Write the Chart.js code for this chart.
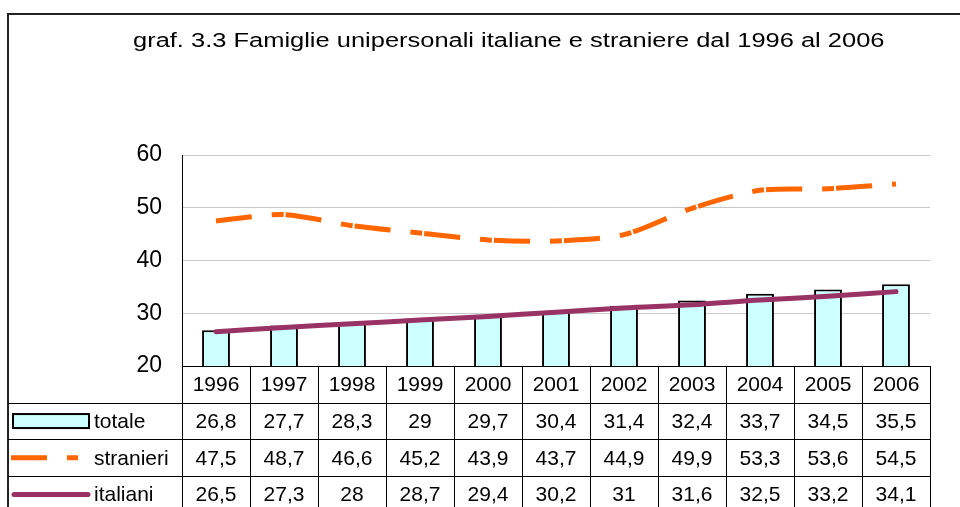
<!DOCTYPE html>
<html>
<head>
<meta charset="utf-8">
<script src="https://cdn.jsdelivr.net/npm/chart.js@4"></script>
<style>
  html, body { margin: 0; padding: 0; background: #fff; }
  #wrap { position: relative; width: 960px; height: 507px; overflow: hidden; }
  #title { position: absolute; left: 133px; top: 29px; font: 20px "Liberation Sans", Arial, sans-serif; color: #000; white-space: nowrap; transform-origin: 0 0; }
</style>
</head>
<body>
<div id="wrap">
  <canvas id="chart" width="960" height="507"></canvas>
  <div id="title">graf. 3.3 Famiglie unipersonali italiane e straniere dal 1996 al 2006</div>
</div>
<script>
var years = ['1996', '1997', '1998', '1999', '2000', '2001', '2002', '2003', '2004', '2005', '2006'];
var totale = [26.8, 27.7, 28.3, 29, 29.7, 30.4, 31.4, 32.4, 33.7, 34.5, 35.5];
var stranieri = [47.5, 48.7, 46.6, 45.2, 43.9, 43.7, 44.9, 49.9, 53.3, 53.6, 54.5];
var italiani = [26.5, 27.3, 28, 28.7, 29.4, 30.2, 31, 31.6, 32.5, 33.2, 34.1];
var yTicks = [20, 30, 40, 50, 60];

// squeeze the title to the narrow width used in the original
var title = document.getElementById('title');
title.style.transform = 'scaleX(' + (751 / title.offsetWidth) + ')';

var font = '"Liberation Sans", Arial, sans-serif';

function fmt(v) {
  return String(v).replace('.', ',');
}

// data table under the plot, aligned to the x scale
var dataTable = {
  id: 'dataTable',
  afterDraw: function (chart) {
    var ctx = chart.ctx;
    var area = chart.chartArea;
    var x = chart.scales.x;
    var w = (area.right - area.left) / years.length;
    var top = area.bottom;
    var rowH = 36.7;
    var rows = [
      { name: 'totale', data: totale },
      { name: 'stranieri', data: stranieri },
      { name: 'italiani', data: italiani }
    ];
    ctx.save();

    // frame
    ctx.strokeStyle = '#222';
    ctx.lineWidth = 2;
    ctx.beginPath();
    ctx.moveTo(8, 507);
    ctx.lineTo(8, 14);
    ctx.lineTo(960, 14);
    ctx.stroke();

    // grid of the table
    ctx.strokeStyle = '#000';
    ctx.lineWidth = 1;
    ctx.beginPath();
    ctx.moveTo(area.left, top + 0.5);
    ctx.lineTo(area.right, top + 0.5);
    for (var r = 1; r <= 3; r++) {
      var yy = Math.round(top + r * rowH) + 0.5;
      ctx.moveTo(8, yy);
      ctx.lineTo(area.right, yy);
    }
    for (var i = 0; i <= years.length; i++) {
      var xx = Math.round(area.left + i * w) + 0.5;
      ctx.moveTo(xx, top);
      ctx.lineTo(xx, 507);
    }
    ctx.stroke();

    // texts
    ctx.fillStyle = '#000';
    ctx.font = '21px ' + font;
    ctx.textAlign = 'center';
    ctx.textBaseline = 'middle';
    years.forEach(function (yr, i) {
      ctx.fillText(yr, x.getPixelForValue(i), top + rowH / 2 + 1);
    });
    rows.forEach(function (row, r) {
      var cy = top + (r + 1.5) * rowH + 1;
      row.data.forEach(function (v, i) {
        ctx.fillText(fmt(v), x.getPixelForValue(i), cy);
      });
    });
    ctx.textAlign = 'left';
    rows.forEach(function (row, r) {
      ctx.fillText(row.name, 94, top + (r + 1.5) * rowH + 1);
    });

    // legend keys
    var c1 = top + 1.5 * rowH;
    ctx.fillStyle = '#CCFFFF';
    ctx.fillRect(13, c1 - 7, 76, 14);
    ctx.strokeStyle = '#000';
    ctx.lineWidth = 2;
    ctx.strokeRect(13, c1 - 7, 76, 14);

    var c2 = top + 2.5 * rowH;
    ctx.strokeStyle = '#FF6600';
    ctx.lineWidth = 5;
    ctx.beginPath();
    ctx.moveTo(11, c2);
    ctx.lineTo(47, c2);
    ctx.moveTo(67, c2);
    ctx.lineTo(78, c2);
    ctx.stroke();

    var c3 = top + 3.5 * rowH;
    ctx.strokeStyle = '#993366';
    ctx.lineCap = 'round';
    ctx.beginPath();
    ctx.moveTo(14, c3);
    ctx.lineTo(88, c3);
    ctx.stroke();

    ctx.restore();
  }
};

var ctx = document.getElementById('chart').getContext('2d');
var myChart = new Chart(ctx, {
  type: 'bar',
  data: {
    labels: years,
    datasets: [
      {
        type: 'line',
        label: 'italiani',
        data: italiani,
        borderColor: '#993366',
        borderWidth: 5,
        borderCapStyle: 'round',
        pointRadius: 0,
        tension: 0.3,
        fill: false,
        order: 1
      },
      {
        type: 'line',
        label: 'stranieri',
        data: stranieri,
        borderColor: '#FF6600',
        borderWidth: 5,
        borderDash: [36, 20, 12, 2],
        pointRadius: 0,
        tension: 0.28,
        fill: false,
        order: 2
      },
      {
        label: 'totale',
        data: totale,
        backgroundColor: '#CCFFFF',
        borderColor: '#000',
        borderWidth: 2,
        borderSkipped: false,
        categoryPercentage: 1,
        barPercentage: 0.41,
        order: 3
      }
    ]
  },
  options: {
    responsive: false,
    animation: false,
    layout: { padding: { top: 155, right: 30, bottom: 141, left: 0 } },
    plugins: {
      legend: { display: false },
      tooltip: { enabled: false }
    },
    scales: {
      x: { display: false },
      y: {
        min: 20,
        max: 60,
        afterBuildTicks: function (scale) {
          scale.ticks = yTicks.map(function (v) { return { value: v }; });
        },
        afterFit: function (scale) { scale.width = 182; },
        grid: { color: '#C8C8C8', drawTicks: false },
        border: { color: '#000', width: 1 },
        ticks: { color: '#000', padding: 20, font: { family: font, size: 23 } }
      }
    }
  },
  plugins: [dataTable]
});
</script>
</body>
</html>
